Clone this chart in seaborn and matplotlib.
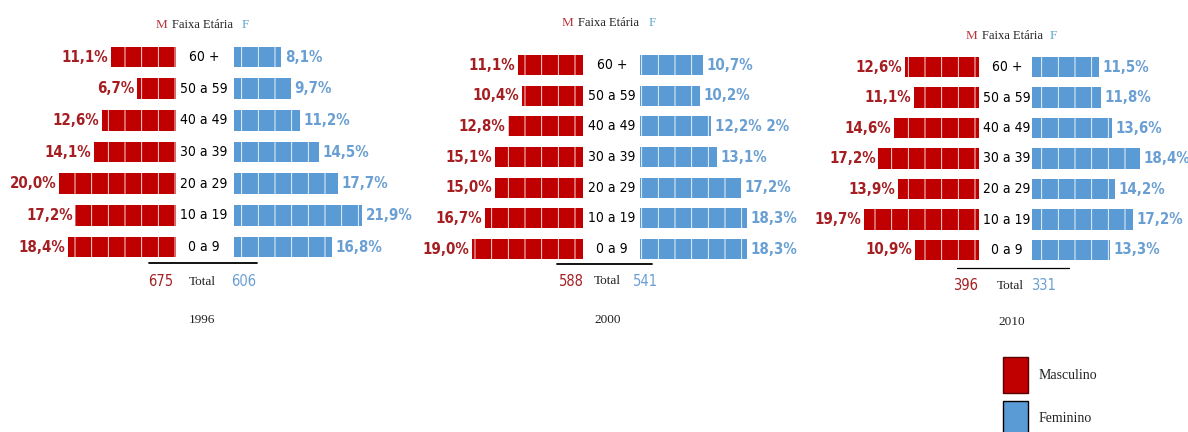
import matplotlib
matplotlib.use("Agg")
import matplotlib.pyplot as plt
import seaborn as sns
import pandas as pd
from matplotlib import transforms
from matplotlib import font_manager as fm
from matplotlib.lines import Line2D
from matplotlib.patches import Patch

# ---------------- data ----------------
ages = ["60 +", "50 a 59", "40 a 49", "30 a 39", "20 a 29", "10 a 19", "0 a 9"]
years = ["1996", "2000", "2010"]
male_1996 = [11.1, 6.7, 12.6, 14.1, 20.0, 17.2, 18.4]
female_1996 = [8.1, 9.7, 11.2, 14.5, 17.7, 21.9, 16.8]
male_2000 = [11.1, 10.4, 12.8, 15.1, 15.0, 16.7, 19.0]
female_2000 = [10.7, 10.2, 12.2, 13.1, 17.2, 18.3, 18.3]
male_2010 = [12.6, 11.1, 14.6, 17.2, 13.9, 19.7, 10.9]
female_2010 = [11.5, 11.8, 13.6, 18.4, 14.2, 17.2, 13.3]
male_totals = [675, 588, 396]
female_totals = [606, 541, 331]
legend_labels = ["Masculino", "Feminino"]
header_labels = ["M", "Faixa Etária", "F"]
total_label = "Total"
# stray text visible in the reference next to one label (panel, row, suffix)
label_suffixes = {(1, 2): " 2%"}

males = [male_1996, male_2000, male_2010]
females = [female_1996, female_2000, female_2010]

# ---------------- style ----------------
RED_BAR = "#C00000"
RED_TXT = "#A51E22"
RED_HDR = "#B8333A"
BLUE_BAR = "#5B9BD5"
BLUE_TXT = "#6A9FD3"
BLUE_HDR = "#5FA8CF"

sns.set_theme(style="white")
SERIF = ["Liberation Serif", "DejaVu Serif"]
plt.rcParams["font.family"] = ["DejaVu Sans"]
plt.rcParams["hatch.linewidth"] = 0.6


def find_narrow(bold):
    files = [f.fname for f in fm.fontManager.ttflist]
    prefs = ["liberationsansnarrow", "dejavusanscondensed", "narrow", "condensed"]
    for key in prefs:
        for fn in files:
            low = fn.lower().replace("-", "").replace("_", "")
            base = low.rsplit("/", 1)[-1]
            if key in base and "italic" not in base and "oblique" not in base:
                isbold = "bold" in base
                if isbold == bold:
                    return fn
    return None


nb = find_narrow(True)
nr = find_narrow(False)
if nb and nr:
    FP_BOLD = fm.FontProperties(fname=nb)
    FP_REG = fm.FontProperties(fname=nr)
    S_PCT, S_AGE, S_TOT = 10.8, 10, 10.5
else:
    FP_BOLD = fm.FontProperties(family="Roboto", weight="bold")
    FP_REG = fm.FontProperties(family="Roboto")
    S_PCT, S_AGE, S_TOT = 10.5, 9.5, 10

W, H = 1188, 432
fig = plt.figure(figsize=(W / 100, H / 100), dpi=100)

# pixel layout of each panel
layout = [
    dict(mr=176, fl=234, cx=204, r0=57, r6=247, hy=25, hm=161, hc=202, hf=245,
         line=(149, 257, 263), ty=282, tm=161, tt=202, tf=244, yy=320),
    dict(mr=583, fl=640, cx=612, r0=65, r6=249, hy=23, hm=567, hc=608, hf=652,
         line=(557, 652, 264), ty=281, tm=571, tt=607, tf=645, yy=320),
    dict(mr=979, fl=1032, cx=1007, r0=67, r6=250, hy=36, hm=971, hc=1012, hf=1053,
         line=(957, 1069, 268), ty=286, tm=966, tt=1010, tf=1044, yy=322),
]
SCALE = 5.85   # px per percent
XMAX = 23.0
BAR_W = 0.66


def fx(px):
    return px / W


def fy(py):
    return 1 - py / H


def fp(base, size):
    f = base.copy()
    f.set_size(size)
    return f


for p, (lay, mvals, fvals) in enumerate(zip(layout, males, females)):
    sp = (lay["r6"] - lay["r0"]) / 6.0
    top = lay["r0"] - 0.5 * sp
    height = 7 * sp
    axw = XMAX * SCALE
    bottom = fy(top + height)

    ax_m = fig.add_axes([fx(lay["mr"] - axw), bottom, fx(axw), height / H])
    ax_f = fig.add_axes([fx(lay["fl"]), bottom, fx(axw), height / H])

    dm = pd.DataFrame({"age": ages, "pct": mvals})
    dfm = pd.DataFrame({"age": ages, "pct": fvals})

    sns.barplot(data=dm, x="pct", y="age", order=ages, orient="h", ax=ax_m,
                color=RED_BAR, width=BAR_W, edgecolor="white", linewidth=0,
                hatch="|", saturation=1)
    sns.barplot(data=dfm, x="pct", y="age", order=ages, orient="h", ax=ax_f,
                color=BLUE_BAR, width=BAR_W, edgecolor="white", linewidth=0,
                hatch="|", saturation=1)

    ax_m.set_xlim(XMAX, 0)
    ax_f.set_xlim(0, XMAX)
    for ax in (ax_m, ax_f):
        ax.set_ylim(6.5, -0.5)
        ax.axis("off")

    for i, v in enumerate(mvals):
        ax_m.annotate(f"{v:.1f}%".replace(".", ","), xy=(v, i), xytext=(-2, 0),
                      textcoords="offset points", ha="right", va="center",
                      color=RED_TXT, fontproperties=fp(FP_BOLD, S_PCT),
                      annotation_clip=False)
    for i, v in enumerate(fvals):
        lab = f"{v:.1f}%".replace(".", ",") + label_suffixes.get((p, i), "")
        ax_f.annotate(lab, xy=(v, i), xytext=(2.5, 0),
                      textcoords="offset points", ha="left", va="center",
                      color=BLUE_TXT, fontproperties=fp(FP_BOLD, S_PCT),
                      annotation_clip=False)

    trans = transforms.blended_transform_factory(fig.transFigure, ax_f.transData)
    for i, a in enumerate(ages):
        fig.text(fx(lay["cx"]), i, a, transform=trans, ha="center", va="center",
                 color="black", fontproperties=fp(FP_REG, S_AGE))

    # header
    fig.text(fx(lay["hm"]), fy(lay["hy"]), header_labels[0], ha="center", va="center",
             fontsize=9.5, color=RED_HDR, family=SERIF)
    fig.text(fx(lay["hc"]), fy(lay["hy"]), header_labels[1], ha="center", va="center",
             fontsize=9, color="#222222", family=SERIF)
    fig.text(fx(lay["hf"]), fy(lay["hy"]), header_labels[2], ha="center", va="center",
             fontsize=9.5, color=BLUE_HDR, family=SERIF)

    # total line and totals
    x0, x1, ly = lay["line"]
    fig.add_artist(Line2D([fx(x0), fx(x1)], [fy(ly), fy(ly)], color="black",
                          lw=1.3 if p < 2 else 0.9))
    fig.text(fx(lay["tm"]), fy(lay["ty"]), str(male_totals[p]), ha="center",
             va="center", color=RED_TXT, fontproperties=fp(FP_REG, S_TOT))
    fig.text(fx(lay["tt"]), fy(lay["ty"]), total_label, ha="center",
             va="center", fontsize=9.5, color="#222222", family=SERIF)
    fig.text(fx(lay["tf"]), fy(lay["ty"]), str(female_totals[p]), ha="center",
             va="center", color=BLUE_TXT, fontproperties=fp(FP_REG, S_TOT))
    fig.text(fx(lay["hc"]), fy(lay["yy"]), years[p], ha="center", va="center",
             fontsize=9.5, color="#222222", family=SERIF)

# legend
handles = [Patch(facecolor=RED_BAR, edgecolor="#5a0000", linewidth=1.0),
           Patch(facecolor=BLUE_BAR, edgecolor="black", linewidth=1.0)]
leg = fig.legend(handles, legend_labels, loc="upper left",
                 bbox_to_anchor=(fx(1003), fy(357)), frameon=False,
                 borderaxespad=0, borderpad=0, handlelength=1.8,
                 handleheight=3.6, labelspacing=0.55, handletextpad=0.75,
                 prop={"family": SERIF, "size": 10})
for t in leg.get_texts():
    t.set_color("#222222")

fig.savefig("out.png", dpi=100)
